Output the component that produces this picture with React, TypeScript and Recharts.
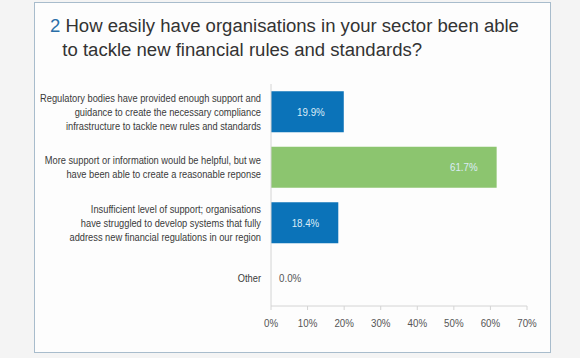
import React from "react";
import { BarChart, Bar, XAxis, YAxis, Cell, LabelList } from "recharts";

const categories = [
  "Regulatory bodies have provided enough support and|guidance to create the necessary compliance|infrastructure to tackle new rules and standards",
  "More support or information would be helpful, but we|have been able to create a reasonable reponse",
  "Insufficient level of support; organisations|have struggled to develop systems that fully|address new financial regulations in our region",
  "Other",
];
const values = [0.199, 0.617, 0.184, 0.0];
const barColors = ["#0b73b9", "#8cc56f", "#0b73b9", "#0b73b9"];
const xTicks = [0, 0.1, 0.2, 0.3, 0.4, 0.5, 0.6, 0.7];

const data = categories.map((c, i) => ({ name: c, value: values[i] }));

const FONT = '"Liberation Sans", Arial, sans-serif';
const SX = 0.93;

const CatTick = (props: any) => {
  const { x, y, payload } = props;
  const lines = String(payload.value).split("|");
  const lh = 14;
  const start = y - ((lines.length - 1) * lh) / 2 + 4;
  return (
    <g transform={`translate(${x} ${start}) scale(${SX} 1)`}>
      <text x={0} y={0} textAnchor="end" fontFamily={FONT} fontSize={10} fill="#3a3a3a">
        {lines.map((l, i) => (
          <tspan key={i} x={0} dy={i === 0 ? 0 : lh}>
            {l}
          </tspan>
        ))}
      </text>
    </g>
  );
};

const XTick = (props: any) => {
  const { x, y, payload } = props;
  return (
    <g transform={`translate(${x} ${y + 11}) scale(${SX} 1)`}>
      <text x={0} y={0} textAnchor="middle" fontFamily={FONT} fontSize={10.5} fill="#555">
        {Math.round(payload.value * 100) + "%"}
      </text>
    </g>
  );
};

const ValueLabel = (props: any) => {
  const { x, y, width, height, value } = props;
  const txt = (Number(value) * 100).toFixed(1) + "%";
  const pos = Number(value) > 0;
  const tx = pos ? x + width - 19 : x + 8;
  return (
    <g transform={`translate(${tx} ${y + height / 2 + 4}) scale(${SX} 1)`}>
      <text x={0} y={0} textAnchor={pos ? "end" : "start"} fontFamily={FONT} fontSize={10.5} fill={pos ? "#dcecf7" : "#555"}>
        {txt}
      </text>
    </g>
  );
};

export default function App() {
  return (
    <div style={{ position: "absolute", left: 0, top: 0, width: 580, height: 358, background: "#f4f4f4", overflow: "hidden" }}>
      <div
        style={{
          position: "absolute",
          left: 34,
          top: 2,
          width: 517,
          height: 351,
          background: "#fdfdfd",
          border: "1px solid #a8bccc",
          boxSizing: "border-box",
        }}
      />
      <div
        style={{
          position: "absolute",
          left: 50,
          top: 14,
          fontFamily: FONT,
          fontSize: 18,
          lineHeight: "24px",
          color: "#333",
          whiteSpace: "nowrap",
          transform: "scaleX(1.03)",
          transformOrigin: "0 0",
        }}
      >
        <div>
          <span style={{ color: "#2a6fa8" }}>2</span> How easily have organisations in your sector been able
        </div>
        <div style={{ paddingLeft: 12 }}>to tackle new financial rules and standards?</div>
      </div>
      <div style={{ position: "absolute", left: 0, top: 0 }}>
        <BarChart
          width={580}
          height={358}
          data={data}
          layout="vertical"
          margin={{ top: 84, right: 53, bottom: 22, left: 11 }}
          barCategoryGap="13%"
        >
          <XAxis
            type="number"
            domain={[0, 0.7]}
            ticks={xTicks}
            stroke="#d4d4d4"
            tickSize={4}
            tickMargin={6}
            tick={<XTick />}
          />
          <YAxis
            type="category"
            dataKey="name"
            width={260}
            stroke="#d4d4d4"
            tickLine={false}
            tickSize={10}
            tickMargin={0}
            tick={<CatTick />}
            interval={0}
          />
          <Bar dataKey="value" isAnimationActive={false} minPointSize={0.01}>
            {data.map((d, i) => (
              <Cell key={i} fill={barColors[i]} />
            ))}
            <LabelList dataKey="value" content={<ValueLabel />} />
          </Bar>
        </BarChart>
      </div>
    </div>
  );
}
